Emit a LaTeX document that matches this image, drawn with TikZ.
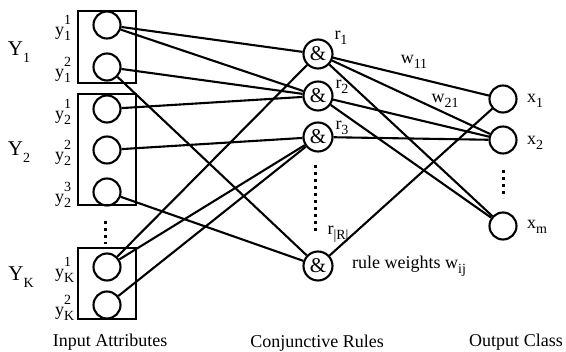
\documentclass[tikz,border=0pt]{standalone}
\usepackage{fontspec}
\setmainfont{Liberation Serif}
\usetikzlibrary{positioning}

\newcommand\lsub[2]{#1\raisebox{-0.3em}{\fontsize{14}{14}\selectfont #2}}
\newcommand\lsubsup[3]{#1\makebox[0pt][l]{\raisebox{0.6em}{\fontsize{14}{14}\selectfont #3}}\raisebox{-0.3em}{\fontsize{14}{14}\selectfont #2}}

\tikzset{
  unit/.style={draw,circle,line width=2.1pt,minimum size=27pt,inner sep=0pt},
  andnode/.style={unit,minimum size=29pt},
  link/.style={line width=2.1pt},
  dots/.style={line width=3pt,dash pattern=on 3pt off 4pt},
  lbl/.style={font=\fontsize{18}{20}\selectfont,inner sep=0pt},
  biglbl/.style={font=\fontsize{21}{22}\selectfont,inner sep=0pt}
}

\begin{document}
\begin{tikzpicture}[x=1pt,y=-1pt]
\useasboundingbox (0,0) rectangle (566,352);

% input attribute groups
\draw[line width=2.1pt] (78,11) rectangle (136,83);
\draw[line width=2.1pt] (78,94) rectangle (136,205);
\draw[line width=2.1pt] (78,248) rectangle (136,319);

\node[unit] (y11) at (107,25) {};
\node[unit] (y12) at (107,67) {};
\node[unit] (y21) at (107,109) {};
\node[unit] (y22) at (107,150) {};
\node[unit] (y23) at (107,192) {};
\node[unit] (yK1) at (107,267) {};
\node[unit] (yK2) at (107,305) {};

\node[lbl,anchor=west] (ly11) at (55,28) {\lsubsup{y}{1}{1}};
\node[lbl,anchor=west] (ly12) at (55,70) {\lsubsup{y}{1}{2}};
\node[lbl,anchor=west] (ly21) at (55,112) {\lsubsup{y}{2}{1}};
\node[lbl,anchor=west] (ly22) at (55,153) {\lsubsup{y}{2}{2}};
\node[lbl,anchor=west] (ly23) at (55,195) {\lsubsup{y}{2}{3}};
\node[lbl,anchor=west] (lyK1) at (55,270) {\lsubsup{y}{K}{1}};
\node[lbl,anchor=west] (lyK2) at (55,308) {\lsubsup{y}{K}{2}};

\node[biglbl] (Y1) at (19,52) {\lsub{Y}{1}};
\node[biglbl] (Y2) at (19,152) {\lsub{Y}{2}};
\node[biglbl] (YK) at (21,277) {\lsub{Y}{K}};

\coordinate (iv1) at (105,221);
\coordinate (iv2) at (105,244);
\draw[dots] (iv1) -- (iv2);

% conjunctive rules
\node[andnode,biglbl] (r1) at (318,54) {\&};
\node[andnode,biglbl] (r2) at (318,96) {\&};
\node[andnode,biglbl] (r3) at (318,137) {\&};
\node[andnode,biglbl] (rR) at (318,266) {\&};

\node[lbl] (lr1) at (341,38) {\lsub{r}{1}};
\node[lbl] (lr2) at (342,87) {\lsub{r}{2}};
\node[lbl] (lr3) at (342,128) {\lsub{r}{3}};
\node[lbl] (lrR) at (338,234) {\lsub{r}{|R|}};

\coordinate (rv1) at (315,165);
\coordinate (rv2) at (315,234);
\draw[dots] (rv1) -- (rv2);

% output class
\node[unit] (x1) at (503,99) {};
\node[unit] (x2) at (503,140) {};
\node[unit] (xm) at (503,226) {};

\node[lbl] (lx1) at (535,101) {\lsub{x}{1}};
\node[lbl] (lx2) at (535,143) {\lsub{x}{2}};
\node[lbl] (lxm) at (537,227) {\lsub{x}{m}};

\coordinate (xv1) at (503,170);
\coordinate (xv2) at (503,198);
\draw[dots] (xv1) -- (xv2);

% input to rule links
\draw[link] (y11) -- (r1);
\draw[link] (y11) -- (r2);
\draw[link] (y12) -- (r2);
\draw[link] (y12) -- (rR);
\draw[link] (y21) -- (r2);
\draw[link] (y22) -- (r3);
\draw[link] (y23) -- (rR);
\draw[link] (yK1) -- (r1);
\draw[link] (yK1) -- (r3);
\draw[link] (yK2) -- (r3);

% rule to output links
\draw[link] (r1) -- (x1);
\draw[link] (r1) -- (x2);
\draw[link] (r1) -- (xm);
\draw[link] (r2) -- (x2);
\draw[link] (r2) -- (xm);
\draw[link] (r3) -- (x2);
\draw[link] (rR) -- (x1);

\node[lbl] (w11) at (414,62) {\lsub{w}{11}};
\node[lbl] (w21) at (445,101) {\lsub{w}{21}};
\node[lbl,anchor=west] (rw) at (352,266) {rule weights \lsub{w}{ij}};

% captions
\node[lbl] (cin) at (110,342) {Input Attributes};
\node[lbl] (crule) at (317,343) {Conjunctive Rules};
\node[lbl] (cout) at (516,342) {Output Class};
\end{tikzpicture}
\end{document}
